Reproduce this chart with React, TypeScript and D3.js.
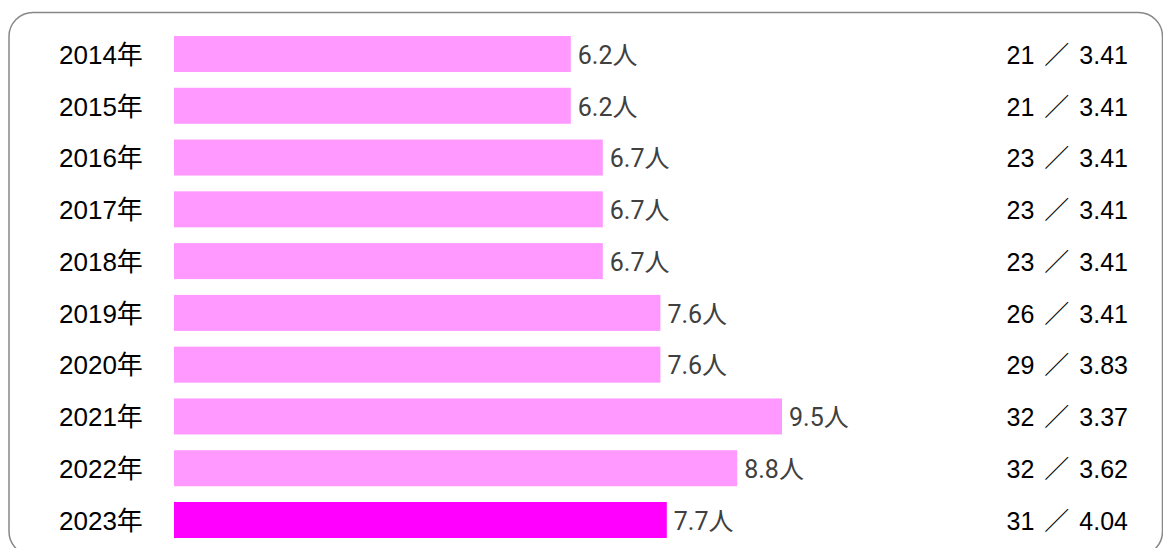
import React from "react";
import * as d3 from "d3";

const years = ["2014年", "2015年", "2016年", "2017年", "2018年", "2019年", "2020年", "2021年", "2022年", "2023年"];
const values = [6.2, 6.2, 6.7, 6.7, 6.7, 7.6, 7.6, 9.5, 8.8, 7.7];
const counts = ["21", "21", "23", "23", "23", "26", "29", "32", "32", "31"];
const ratios = ["3.41", "3.41", "3.41", "3.41", "3.41", "3.41", "3.83", "3.37", "3.62", "4.04"];
const unit = "人";

const W = 1163;
const H = 548;

export default function App() {
  const x = d3.scaleLinear().domain([0, 10]).range([174, 814]);
  const y = d3.scalePoint<string>().domain(years).range([54, 520]);
  const barH = 36;
  return (
    <svg width={W} height={H} style={{ position: "absolute", left: 0, top: 0, background: "#fff" }}>
      <rect x={9} y={12.5} width={1153.5} height={543} rx={24} ry={24} fill="#fff" stroke="#888" strokeWidth={1.5} />
      {years.map((yr, i) => {
        const cy = y(yr) as number;
        const x0 = x(0);
        const x1 = x(values[i]);
        const last = i === years.length - 1;
        return (
          <g key={yr}>
            <text x={59} y={cy + 9.8} fontFamily="'Liberation Sans', 'Noto Sans CJK JP', sans-serif" fontSize={26} fill="#000">
              {yr}
            </text>
            <rect x={x0} y={cy - barH / 2} width={x1 - x0} height={barH} fill={last ? "#FF00FF" : "#FF99FF"} />
            <text x={x1 + 7} y={cy + 9.8} fontFamily="Roboto, 'Noto Sans CJK JP', sans-serif" fontSize={25} fill="#404040">
              {values[i].toFixed(1) + unit}
            </text>
            <text x={1128} y={cy + 9.8} textAnchor="end" fontFamily="'Liberation Sans', 'Noto Sans CJK JP', sans-serif" fontSize={25} fill="#000">
              <tspan>{counts[i]}</tspan>
              <tspan dx={10}>{"／"}</tspan>
              <tspan dx={10}>{ratios[i]}</tspan>
            </text>
          </g>
        );
      })}
    </svg>
  );
}
